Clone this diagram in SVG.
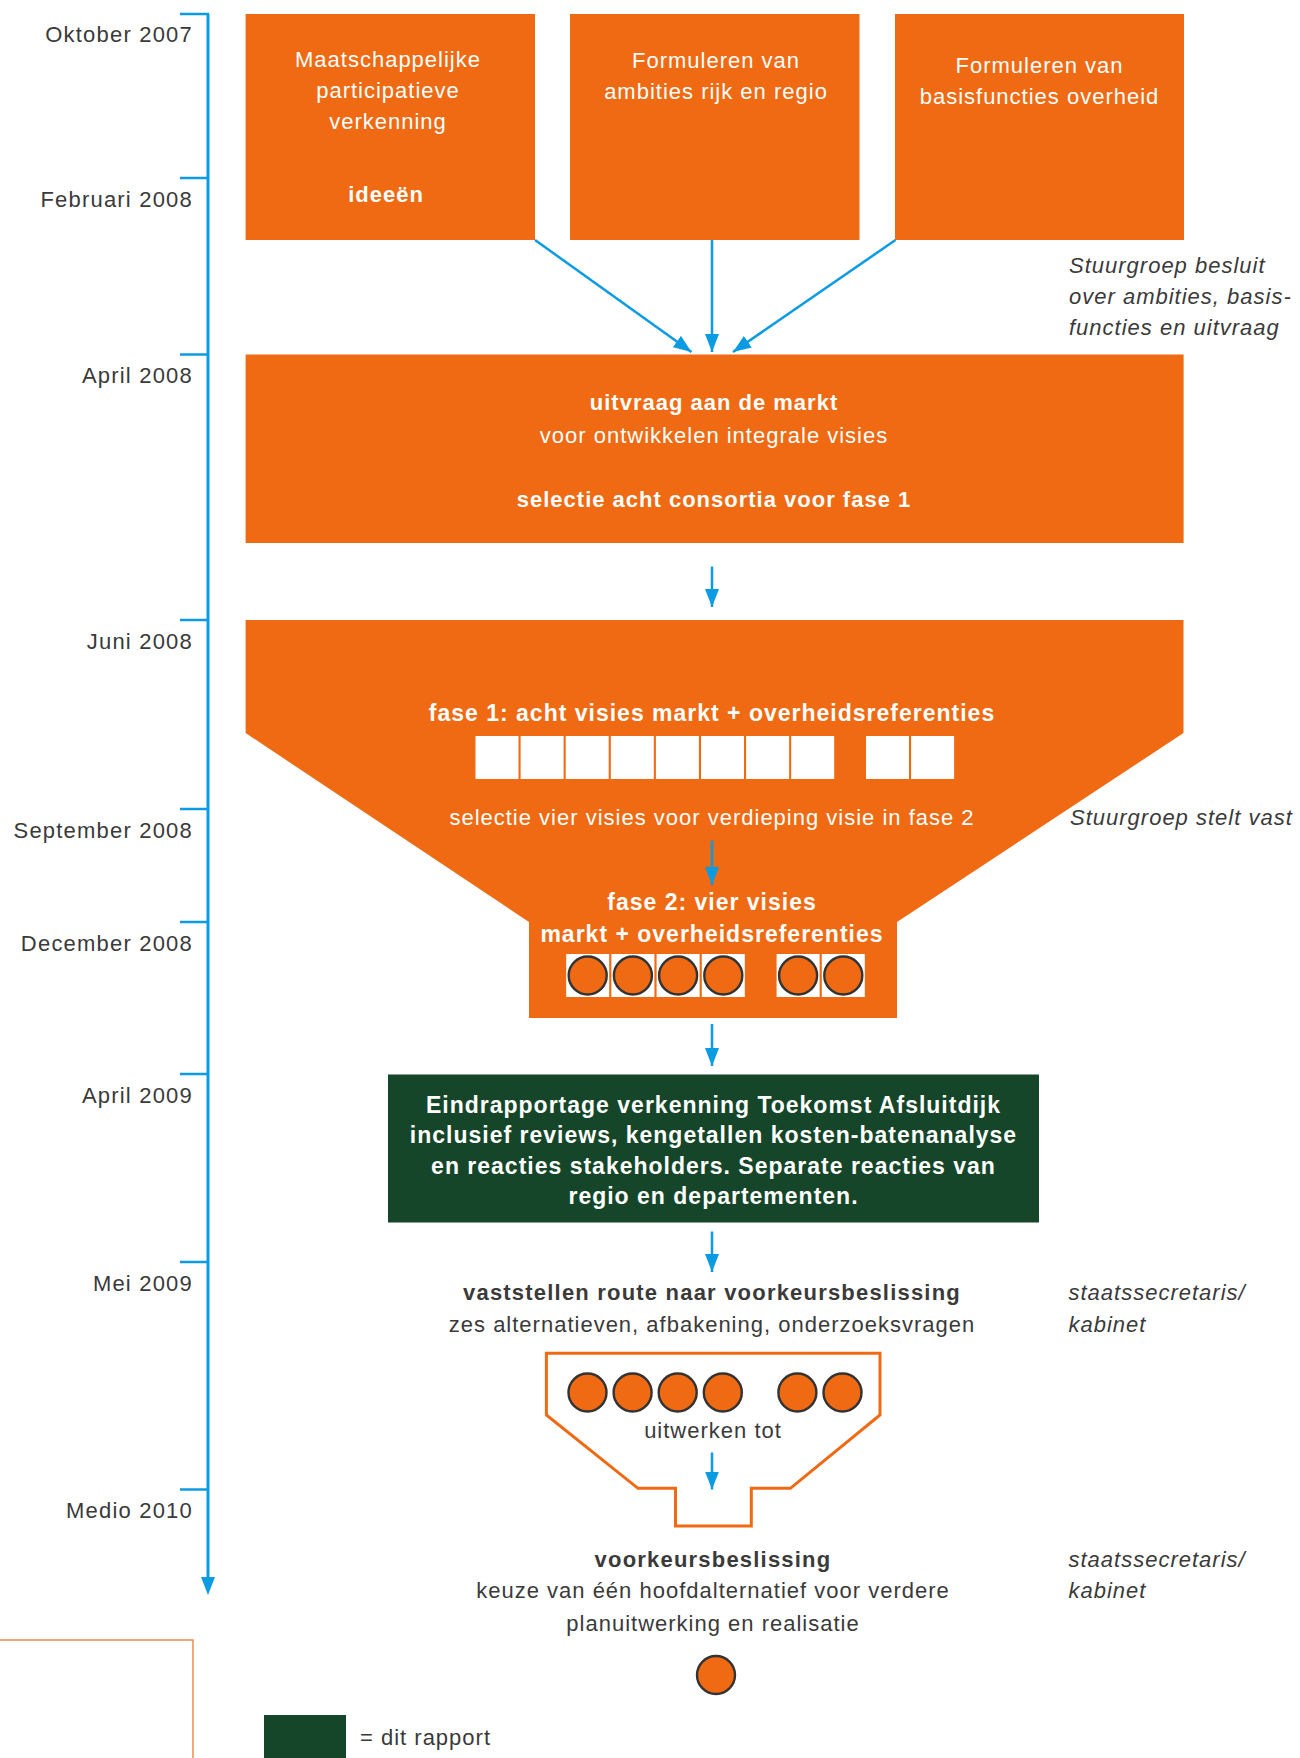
<svg xmlns="http://www.w3.org/2000/svg" width="1300" height="1758" viewBox="0 0 1300 1758">
<style>
  text { font-family: "Liberation Sans", Arial, sans-serif; }
  .tl { font-size: 22px; fill: #3a3a3a; text-anchor: end; letter-spacing: 1.2px; }
  .w { font-size: 22px; fill: #ffffff; text-anchor: middle; letter-spacing: 1px; }
  .wb { font-size: 22px; fill: #ffffff; text-anchor: middle; font-weight: bold; letter-spacing: 1px; }
  .wb23 { font-size: 23px; fill: #ffffff; text-anchor: middle; font-weight: bold; letter-spacing: 1px; }
  .d { font-size: 22px; fill: #3a3a3a; text-anchor: middle; letter-spacing: 1px; }
  .db { font-size: 22px; fill: #3a3a3a; text-anchor: middle; font-weight: bold; letter-spacing: 1.2px; }
  .it { font-size: 22px; fill: #3a3a3a; font-style: italic; letter-spacing: 1px; }
  .org { fill: #EF6A12; }
  .conn { stroke: #0B9BE3; stroke-width: 2.5; fill: none; marker-end: url(#ah); }
  .sq { fill: #ffffff; }
  .dot { fill: #EF6A12; stroke: #333333; stroke-width: 2.4; }
</style>
<defs>
  <marker id="ah" viewBox="0 0 18 14" refX="18" refY="7" markerWidth="18" markerHeight="14" markerUnits="userSpaceOnUse" orient="auto">
    <path d="M0,0 L18,7 L0,14 z" fill="#0B9BE3"/>
  </marker>
</defs>
<rect width="1300" height="1758" fill="#ffffff"/>

<g id="timeline">
  <path d="M208,14 V1578" stroke="#0B9BE3" stroke-width="3" fill="none"/>
  <path d="M201,1577 L215,1577 L208,1595 z" fill="#0B9BE3"/>
  <g stroke="#0B9BE3" stroke-width="2.5">
    <line x1="180" y1="14" x2="209" y2="14"/>
    <line x1="180" y1="178" x2="208" y2="178"/>
    <line x1="180" y1="354.5" x2="208" y2="354.5"/>
    <line x1="180" y1="620" x2="208" y2="620"/>
    <line x1="180" y1="809" x2="208" y2="809"/>
    <line x1="180" y1="922" x2="208" y2="922"/>
    <line x1="180" y1="1074" x2="208" y2="1074"/>
    <line x1="180" y1="1262" x2="208" y2="1262"/>
    <line x1="180" y1="1489.5" x2="208" y2="1489.5"/>
  </g>
  <text class="tl" x="193" y="42">Oktober 2007</text>
  <text class="tl" x="193" y="207">Februari 2008</text>
  <text class="tl" x="193" y="383">April 2008</text>
  <text class="tl" x="193" y="649">Juni 2008</text>
  <text class="tl" x="193" y="838">September 2008</text>
  <text class="tl" x="193" y="951">December 2008</text>
  <text class="tl" x="193" y="1103">April 2009</text>
  <text class="tl" x="193" y="1291">Mei 2009</text>
  <text class="tl" x="193" y="1518">Medio 2010</text>
</g>

<g id="box-verkenning">
  <rect class="org" x="245.6" y="14" width="289.4" height="226"/>
  <text class="w" x="388" y="67">Maatschappelijke</text>
  <text class="w" x="388" y="98">participatieve</text>
  <text class="w" x="388" y="129">verkenning</text>
  <text class="wb" x="386" y="202">ideeën</text>
</g>

<g id="box-ambities">
  <rect class="org" x="570" y="14" width="289.5" height="226"/>
  <text class="w" x="716" y="68">Formuleren van</text>
  <text class="w" x="716" y="99">ambities rijk en regio</text>
</g>

<g id="box-basisfuncties">
  <rect class="org" x="895" y="14" width="289" height="226"/>
  <text class="w" x="1039.5" y="73">Formuleren van</text>
  <text class="w" x="1039.5" y="104">basisfuncties overheid</text>
</g>

<g id="note-stuurgroep-besluit">
  <text class="it" x="1069" y="273">Stuurgroep besluit</text>
  <text class="it" x="1069" y="304">over ambities, basis-</text>
  <text class="it" x="1069" y="335">functies en uitvraag</text>
</g>

<g id="box-uitvraag">
  <rect class="org" x="245.6" y="354.5" width="938" height="188.5"/>
  <text class="wb" x="714" y="410">uitvraag aan de markt</text>
  <text class="w" x="714" y="443">voor ontwikkelen integrale visies</text>
  <text class="wb" x="714" y="507">selectie acht consortia voor fase 1</text>
</g>

<g id="funnel-fase">
  <polygon class="org" points="245.6,620 1183.5,620 1183.5,733 897,922 897,1018 529,1018 529,922 245.6,733"/>
  <text class="wb23" x="712" y="721">fase 1: acht visies markt + overheidsreferenties</text>
  <g>
    <rect class="sq" x="475.5" y="736" width="43" height="43"/>
    <rect class="sq" x="520.6" y="736" width="43" height="43"/>
    <rect class="sq" x="565.7" y="736" width="43" height="43"/>
    <rect class="sq" x="610.8" y="736" width="43" height="43"/>
    <rect class="sq" x="655.9" y="736" width="43" height="43"/>
    <rect class="sq" x="701" y="736" width="43" height="43"/>
    <rect class="sq" x="746.1" y="736" width="43" height="43"/>
    <rect class="sq" x="791.2" y="736" width="43" height="43"/>
    <rect class="sq" x="866" y="736" width="43" height="43"/>
    <rect class="sq" x="911.1" y="736" width="43" height="43"/>
  </g>
  <text class="w" x="712" y="825">selectie vier visies voor verdieping visie in fase 2</text>
  <text class="wb23" x="712" y="910">fase 2: vier visies</text>
  <text class="wb23" x="712" y="942">markt + overheidsreferenties</text>
  <g>
    <rect class="sq" x="566.2" y="954" width="43" height="43"/>
    <rect class="sq" x="611.4" y="954" width="43" height="43"/>
    <rect class="sq" x="656.6" y="954" width="43" height="43"/>
    <rect class="sq" x="701.8" y="954" width="43" height="43"/>
    <rect class="sq" x="776.6" y="954" width="43" height="43"/>
    <rect class="sq" x="821.8" y="954" width="43" height="43"/>
    <circle class="dot" cx="587.7" cy="975.5" r="19"/>
    <circle class="dot" cx="632.9" cy="975.5" r="19"/>
    <circle class="dot" cx="678.1" cy="975.5" r="19"/>
    <circle class="dot" cx="723.3" cy="975.5" r="19"/>
    <circle class="dot" cx="798.1" cy="975.5" r="19"/>
    <circle class="dot" cx="843.3" cy="975.5" r="19"/>
  </g>
</g>

<g id="note-stuurgroep-stelt">
  <text class="it" x="1070" y="825">Stuurgroep stelt vast</text>
</g>

<g id="box-eindrapportage">
  <rect x="388" y="1074.5" width="651" height="148" fill="#16462A"/>
  <text class="wb23" x="713.5" y="1113">Eindrapportage verkenning Toekomst Afsluitdijk</text>
  <text class="wb23" x="713.5" y="1143">inclusief reviews, kengetallen kosten-batenanalyse</text>
  <text class="wb23" x="713.5" y="1174">en reacties stakeholders. Separate reacties van</text>
  <text class="wb23" x="713.5" y="1204">regio en departementen.</text>
</g>

<g id="step-route">
  <text class="db" x="712" y="1300">vaststellen route naar voorkeursbeslissing</text>
  <text class="d" x="712" y="1332">zes alternatieven, afbakening, onderzoeksvragen</text>
</g>

<g id="note-staatssecretaris-1">
  <text class="it" x="1068.5" y="1300">staatssecretaris/</text>
  <text class="it" x="1068.5" y="1332">kabinet</text>
</g>

<g id="funnel-uitwerken">
  <polygon points="546.4,1353.3 880,1353.3 880,1415 790.4,1488.3 751.3,1488.3 751.3,1526 675.5,1526 675.5,1488.3 638,1488.3 546.4,1415" fill="#ffffff" stroke="#EF6A12" stroke-width="3"/>
  <circle class="dot" cx="587.5" cy="1392.5" r="19"/>
  <circle class="dot" cx="632.6" cy="1392.5" r="19"/>
  <circle class="dot" cx="677.7" cy="1392.5" r="19"/>
  <circle class="dot" cx="722.8" cy="1392.5" r="19"/>
  <circle class="dot" cx="797.4" cy="1392.5" r="19"/>
  <circle class="dot" cx="842.5" cy="1392.5" r="19"/>
  <text class="d" x="713" y="1438">uitwerken tot</text>
</g>

<g id="step-voorkeursbeslissing">
  <text class="db" x="713" y="1567">voorkeursbeslissing</text>
  <text class="d" x="713" y="1598">keuze van één hoofdalternatief voor verdere</text>
  <text class="d" x="713" y="1631">planuitwerking en realisatie</text>
  <circle class="dot" cx="716" cy="1675" r="19"/>
</g>

<g id="note-staatssecretaris-2">
  <text class="it" x="1068.5" y="1567">staatssecretaris/</text>
  <text class="it" x="1068.5" y="1598">kabinet</text>
</g>

<g id="legend">
  <path d="M0,1640 H193 V1758" fill="none" stroke="#F08A4B" stroke-width="1.5"/>
  <rect x="264" y="1715" width="82" height="43" fill="#16462A"/>
  <text x="360" y="1745" style="font-size:22px;fill:#3a3a3a;letter-spacing:1px">= dit rapport</text>
</g>

<g id="connectors">
  <line class="conn" x1="535" y1="240" x2="691.5" y2="352"/>
  <line class="conn" x1="712" y1="240" x2="712" y2="352"/>
  <line class="conn" x1="895.5" y1="240" x2="733" y2="352"/>
  <line class="conn" x1="712" y1="566.5" x2="712" y2="607"/>
  <line class="conn" x1="712" y1="840.5" x2="712" y2="885"/>
  <line class="conn" x1="712" y1="1024" x2="712" y2="1066"/>
  <line class="conn" x1="712" y1="1231.5" x2="712" y2="1272"/>
  <line class="conn" x1="712" y1="1452.5" x2="712" y2="1489.5"/>
</g>
</svg>
